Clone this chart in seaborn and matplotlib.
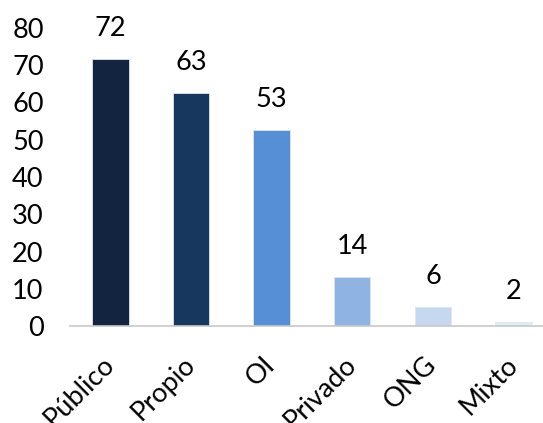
import matplotlib
matplotlib.use("Agg")
import matplotlib.pyplot as plt
import seaborn as sns
import pandas as pd

categories = ["Público", "Propio", "OI", "Privado", "ONG", "Mixto"]
values = [71.6, 62.6, 52.5, 13.2, 5.0, 1.1]
value_labels = ["72", "63", "53", "14", "6", "2"]
colors = ["#12243F", "#18375E", "#568FD6", "#8FB4E3", "#C5D8F0", "#DAEEF3"]
yticks = [0, 10, 20, 30, 40, 50, 60, 70, 80]

sns.set_theme(style="white")
plt.rcParams["font.family"] = ["Lato", "DejaVu Sans"]

df = pd.DataFrame({"cat": categories, "val": values})

fig = plt.figure(figsize=(5.43, 4.23), dpi=100)
ax = fig.add_axes([0.129, 0.229, 0.891, 0.705])
sns.barplot(data=df, x="cat", y="val", hue="cat", palette=colors, legend=False,
            width=0.45, ax=ax, saturation=1, edgecolor="#E0E6EE", linewidth=0.6)

ax.set_ylim(0, 80)
ax.set_xlim(-0.5, len(categories) - 0.5)
ax.set_yticks(yticks)
ax.set_yticklabels([str(t) for t in yticks], fontsize=19.5, color="black")
ax.tick_params(axis="y", length=0, pad=19)
ax.set_xlabel("")
ax.set_ylabel("")

ax.set_xticks(range(len(categories)))
ax.set_xticklabels(categories, fontsize=19.5, rotation=45, ha="right", va="center",
                   rotation_mode="anchor", color="black")
ax.tick_params(axis="x", which="major", length=0, pad=25)
ax.set_xticks([i - 0.5 for i in range(len(categories) + 1)], minor=True)
ax.tick_params(axis="x", which="minor", length=9, width=1.2, color="#C8C8C8")

for s in ["top", "right", "left"]:
    ax.spines[s].set_visible(False)
ax.spines["bottom"].set_color("#C8C8C8")
ax.spines["bottom"].set_linewidth(1.2)

for i, (v, lab) in enumerate(zip(values, value_labels)):
    ax.annotate(lab, xy=(i, v), xytext=(0, 22), textcoords="offset points",
                ha="center", va="center", fontsize=19.5, color="black")

fig.savefig("out.png", dpi=100)
